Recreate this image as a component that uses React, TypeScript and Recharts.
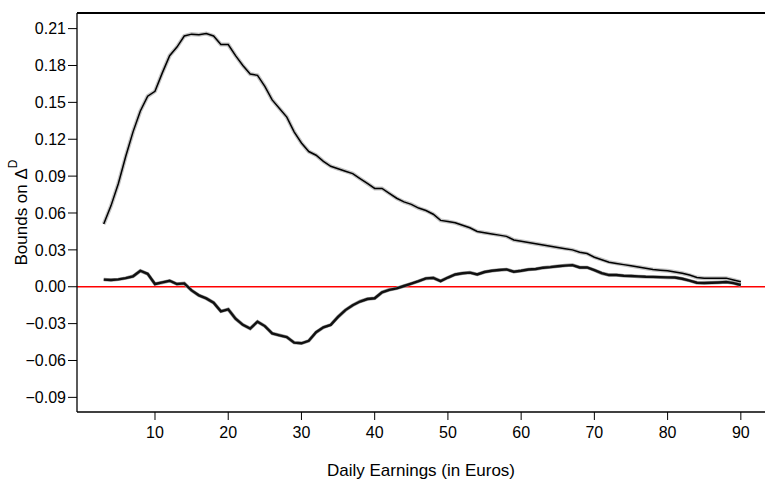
import React from 'react';
import { LineChart, Line, XAxis, YAxis, ReferenceLine, Label } from 'recharts';

const earnings = [
  3, 4, 5, 6, 7, 8, 9, 10, 11, 12, 13, 14, 15, 16, 17, 18, 19, 20, 21, 22, 23, 24, 25, 26, 27, 28, 29, 30,
  31, 32, 33, 34, 35, 36, 37, 38, 39, 40, 41, 42, 43, 44, 45, 46, 47, 48, 49, 50, 51, 52, 53, 54, 55, 56, 57, 58, 59, 60,
  61, 62, 63, 64, 65, 66, 67, 68, 69, 70, 71, 72, 73, 74, 75, 76, 77, 78, 79, 80, 81, 82, 83, 84, 85, 86, 87, 88, 89, 90,
];

const upperBound = [
  0.051, 0.066, 0.084, 0.106, 0.126, 0.143, 0.155, 0.159, 0.174, 0.188, 0.195, 0.204, 0.2055, 0.205, 0.206, 0.204,
  0.197, 0.197, 0.188, 0.18, 0.173, 0.172, 0.163, 0.152, 0.145, 0.138, 0.126, 0.117, 0.11, 0.107, 0.102, 0.098,
  0.096, 0.094, 0.092, 0.088, 0.084, 0.08, 0.08, 0.076, 0.072, 0.069, 0.067, 0.064, 0.062, 0.059, 0.054, 0.053,
  0.052, 0.05, 0.048, 0.045, 0.044, 0.043, 0.042, 0.041, 0.038, 0.037, 0.036, 0.035, 0.034, 0.033, 0.032, 0.031,
  0.03, 0.028, 0.027, 0.024, 0.022, 0.02, 0.019, 0.018, 0.017, 0.016, 0.015, 0.014, 0.0135, 0.013, 0.012, 0.011,
  0.0095, 0.0075, 0.007, 0.007, 0.007, 0.007, 0.0055, 0.004,
];

const lowerBound = [
  0.0058, 0.0055, 0.006, 0.007, 0.0085, 0.013, 0.0105, 0.0022, 0.0035, 0.0049, 0.0022, 0.0027, -0.003, -0.007,
  -0.0095, -0.013, -0.02, -0.0184, -0.026, -0.031, -0.034, -0.0284, -0.032, -0.038, -0.0395, -0.041, -0.0455,
  -0.046, -0.044, -0.037, -0.033, -0.031, -0.0245, -0.019, -0.015, -0.012, -0.01, -0.0094, -0.0045, -0.0025,
  -0.0013, 0.0006, 0.0025, 0.0045, 0.0068, 0.0072, 0.0046, 0.0075, 0.01, 0.011, 0.0115, 0.01, 0.012, 0.013,
  0.0136, 0.0141, 0.0122, 0.013, 0.014, 0.0144, 0.0155, 0.016, 0.0167, 0.0172, 0.0176, 0.0157, 0.0157, 0.0135,
  0.011, 0.0095, 0.0095, 0.009, 0.0087, 0.0084, 0.0081, 0.008, 0.0078, 0.0076, 0.0075, 0.0065, 0.005, 0.0033,
  0.003, 0.0032, 0.0035, 0.0038, 0.003, 0.0014,
];

const xTicks = [10, 20, 30, 40, 50, 60, 70, 80, 90];
const yTicks = [-0.09, -0.06, -0.03, 0, 0.03, 0.06, 0.09, 0.12, 0.15, 0.18, 0.21];
const xDomain = [-0.65, 93.3];
const yDomain = [-0.1019, 0.2227];

const data = earnings.map((x, i) => ({ x, upper: upperBound[i], lower: lowerBound[i] }));

const FONT = '"Liberation Sans", Arial, Helvetica, sans-serif';

const fmtY = (v: number) => {
  const s = Math.abs(v).toFixed(2);
  return v < -1e-9 ? '\u2212' + s : s;
};

const YLabel = (props: any) => {
  const vb = props.viewBox || { x: 0, y: 0, width: 0, height: 0 };
  const cy = vb.y + vb.height / 2;
  const cx = 21;
  return (
    <text
      x={cx}
      y={cy}
      transform={`rotate(-90, ${cx}, ${cy})`}
      textAnchor="middle"
      dominantBaseline="central"
      fontFamily={FONT}
      fontSize={17}
      fill="#000"
    >
      Bounds on Δ<tspan dy={-8} fontSize={12}>D</tspan>
    </text>
  );
};

const XLabel = (props: any) => {
  const vb = props.viewBox || { x: 0, y: 0, width: 0, height: 0 };
  const cx = vb.x + vb.width / 2;
  return (
    <text x={cx} y={470} textAnchor="middle" dominantBaseline="central" fontFamily={FONT} fontSize={17} fill="#000">
      Daily Earnings (in Euros)
    </text>
  );
};

export default function App() {
  return (
    <div style={{ position: 'absolute', left: 0, top: 0, width: 765, height: 479, background: '#fff' }}>
      <LineChart width={765} height={479} data={data} margin={{ top: 13, right: 0, bottom: 0, left: 0 }}>
        <XAxis
          dataKey="x"
          type="number"
          domain={xDomain}
          ticks={xTicks}
          allowDataOverflow
          height={67}
          tickSize={8}
          tickMargin={7}
          stroke="#000"
          tick={{ fill: '#000', fontSize: 16, fontFamily: FONT }}
          axisLine={{ stroke: '#000', strokeWidth: 1.3 }}
          tickLine={{ stroke: '#000', strokeWidth: 1 }}
        >
          <Label content={<XLabel />} />
        </XAxis>
        <YAxis
          type="number"
          domain={yDomain}
          ticks={yTicks}
          allowDataOverflow
          width={77}
          tickSize={9}
          tickMargin={2}
          tickFormatter={fmtY}
          stroke="#000"
          tick={{ fill: '#000', fontSize: 16, fontFamily: FONT }}
          axisLine={{ stroke: '#000', strokeWidth: 1.3 }}
          tickLine={{ stroke: '#000', strokeWidth: 1 }}
        >
          <Label content={<YLabel />} />
        </YAxis>
        <ReferenceLine y={yDomain[1]} stroke="#000" strokeWidth={2} ifOverflow="extendDomain" />
        <ReferenceLine y={0} stroke="#ff0000" strokeWidth={1.4} />
        <Line dataKey="upper" stroke="#c4c4c4" strokeWidth={4} dot={false} isAnimationActive={false} type="linear" />
        <Line dataKey="upper" stroke="#000" strokeWidth={1.5} dot={false} isAnimationActive={false} type="linear" />
        <Line dataKey="lower" stroke="#9a9a9a" strokeWidth={3.5} dot={false} isAnimationActive={false} type="linear" />
        <Line dataKey="lower" stroke="#111" strokeWidth={2.4} dot={false} isAnimationActive={false} type="linear" />
      </LineChart>
    </div>
  );
}
